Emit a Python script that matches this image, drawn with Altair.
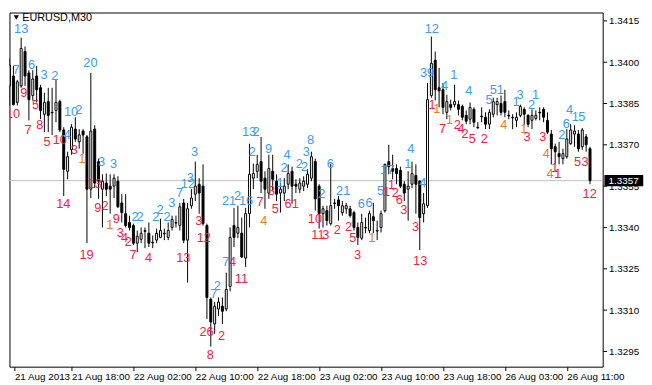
import json
import altair as alt
import pandas as pd

# ---------------- data (EURUSD, M30) ----------------
opens = [
    1.33914, 1.33950, 1.33854, 1.33914, 1.34039, 1.33961, 1.33879, 1.33950, 1.33907, 1.33811,
    1.33857, 1.33818, 1.33825, 1.33857, 1.33754, 1.33604, 1.33682, 1.33757, 1.33711, 1.33750,
    1.33729, 1.33539, 1.33757, 1.33639, 1.33539, 1.33561, 1.33550, 1.33550, 1.33568, 1.33489,
    1.33450, 1.33418, 1.33407, 1.33343, 1.33357, 1.33389, 1.33379, 1.33346, 1.33354, 1.33364,
    1.33379, 1.33364, 1.33400, 1.33418, 1.33407, 1.33489, 1.33354, 1.33479, 1.33521, 1.33557,
    1.33550, 1.33407, 1.33139, 1.33050, 1.33104, 1.33114, 1.33104, 1.33186, 1.33407, 1.33379,
    1.33379, 1.33289, 1.33450, 1.33579, 1.33604, 1.33639, 1.33579, 1.33525, 1.33604, 1.33568,
    1.33525, 1.33525, 1.33557, 1.33604, 1.33557, 1.33539, 1.33550, 1.33557, 1.33579, 1.33639,
    1.33550, 1.33450, 1.33461, 1.33414, 1.33489, 1.33500, 1.33454, 1.33468, 1.33468, 1.33454,
    1.33400, 1.33361, 1.33400, 1.33389, 1.33439, 1.33389, 1.33400, 1.33461, 1.33639, 1.33614,
    1.33614, 1.33607, 1.33557, 1.33539, 1.33557, 1.33589, 1.33568, 1.33450, 1.33479, 1.33879,
    1.34007, 1.33907, 1.33900, 1.33818, 1.33846, 1.33846, 1.33846, 1.33839, 1.33807, 1.33793,
    1.33829, 1.33764, 1.33804, 1.33800, 1.33775, 1.33811, 1.33846, 1.33850, 1.33857, 1.33807,
    1.33800, 1.33789, 1.33807, 1.33829, 1.33807, 1.33789, 1.33796, 1.33818, 1.33829, 1.33789,
    1.33739, 1.33693, 1.33668, 1.33650, 1.33657, 1.33704, 1.33739, 1.33739, 1.33693, 1.33729,
    1.33686,
]
highs = [
    1.34014, 1.33986, 1.33936, 1.34089, 1.34057, 1.33971, 1.33971, 1.33986, 1.33918, 1.33889,
    1.33907, 1.33907, 1.33936, 1.33864, 1.33764, 1.33675, 1.33775, 1.33800, 1.33757, 1.33757,
    1.33736, 1.33961, 1.33771, 1.33650, 1.33593, 1.33596, 1.33593, 1.33593, 1.33586, 1.33521,
    1.33521, 1.33443, 1.33414, 1.33389, 1.33400, 1.33400, 1.33418, 1.33371, 1.33396, 1.33432,
    1.33396, 1.33418, 1.33443, 1.33443, 1.33489, 1.33504, 1.33489, 1.33539, 1.33639, 1.33579,
    1.33629, 1.33414, 1.33146, 1.33129, 1.33146, 1.33146, 1.33236, 1.33400, 1.33471, 1.33479,
    1.33436, 1.33471, 1.33704, 1.33632, 1.33664, 1.33729, 1.33604, 1.33664, 1.33664, 1.33593,
    1.33561, 1.33579, 1.33629, 1.33621, 1.33575, 1.33579, 1.33586, 1.33611, 1.33675, 1.33650,
    1.33557, 1.33479, 1.33479, 1.33632, 1.33504, 1.33514, 1.33496, 1.33489, 1.33479, 1.33461,
    1.33418, 1.33450, 1.33436, 1.33461, 1.33489, 1.33425, 1.33461, 1.33632, 1.33700, 1.33664,
    1.33629, 1.33621, 1.33568, 1.33604, 1.33639, 1.33629, 1.33571, 1.33525, 1.33925, 1.34093,
    1.34039, 1.33979, 1.33925, 1.33882, 1.33864, 1.33918, 1.33861, 1.33846, 1.33825, 1.33854,
    1.33836, 1.33782, 1.33836, 1.33818, 1.33829, 1.33871, 1.33871, 1.33879, 1.33900, 1.33825,
    1.33811, 1.33818, 1.33846, 1.33836, 1.33811, 1.33829, 1.33825, 1.33836, 1.33836, 1.33818,
    1.33754, 1.33704, 1.33711, 1.33686, 1.33757, 1.33775, 1.33771, 1.33754, 1.33761, 1.33739,
    1.33693,
]
lows = [
    1.33843, 1.33843, 1.33843, 1.33907, 1.33914, 1.33789, 1.33861, 1.33854, 1.33793, 1.33746,
    1.33746, 1.33736, 1.33782, 1.33746, 1.33514, 1.33575, 1.33664, 1.33711, 1.33686, 1.33668,
    1.33343, 1.33507, 1.33543, 1.33504, 1.33400, 1.33514, 1.33450, 1.33507, 1.33471, 1.33418,
    1.33400, 1.33389, 1.33336, 1.33311, 1.33343, 1.33325, 1.33329, 1.33325, 1.33343, 1.33361,
    1.33354, 1.33354, 1.33389, 1.33400, 1.33389, 1.33343, 1.33200, 1.33468, 1.33496, 1.33450,
    1.33407, 1.33068, 1.32968, 1.33014, 1.33079, 1.33050, 1.33096, 1.33168, 1.33329, 1.33361,
    1.33289, 1.33257, 1.33400, 1.33539, 1.33579, 1.33525, 1.33468, 1.33504, 1.33532, 1.33496,
    1.33454, 1.33496, 1.33539, 1.33486, 1.33525, 1.33525, 1.33532, 1.33543, 1.33568, 1.33461,
    1.33396, 1.33400, 1.33407, 1.33407, 1.33468, 1.33425, 1.33443, 1.33450, 1.33436, 1.33389,
    1.33336, 1.33354, 1.33379, 1.33379, 1.33379, 1.33354, 1.33382, 1.33454, 1.33593, 1.33575,
    1.33557, 1.33543, 1.33496, 1.33425, 1.33543, 1.33450, 1.33318, 1.33418, 1.33471, 1.33871,
    1.33861, 1.33836, 1.33811, 1.33793, 1.33825, 1.33836, 1.33807, 1.33789, 1.33775, 1.33775,
    1.33764, 1.33757, 1.33782, 1.33757, 1.33757, 1.33800, 1.33807, 1.33807, 1.33800, 1.33793,
    1.33757, 1.33764, 1.33800, 1.33771, 1.33764, 1.33757, 1.33789, 1.33789, 1.33782, 1.33739,
    1.33629, 1.33629, 1.33629, 1.33629, 1.33650, 1.33700, 1.33693, 1.33675, 1.33682, 1.33675,
    1.33557,
]
closes = [
    1.33989, 1.33846, 1.33929, 1.34050, 1.33950, 1.33864, 1.33939, 1.33900, 1.33825, 1.33854,
    1.33807, 1.33816, 1.33854, 1.33754, 1.33611, 1.33657, 1.33764, 1.33721, 1.33736, 1.33736,
    1.33539, 1.33750, 1.33561, 1.33568, 1.33568, 1.33539, 1.33539, 1.33579, 1.33475, 1.33454,
    1.33407, 1.33400, 1.33343, 1.33368, 1.33379, 1.33386, 1.33343, 1.33344, 1.33379, 1.33389,
    1.33377, 1.33389, 1.33429, 1.33416, 1.33475, 1.33354, 1.33468, 1.33507, 1.33550, 1.33525,
    1.33414, 1.33146, 1.33057, 1.33114, 1.33129, 1.33096, 1.33175, 1.33364, 1.33364, 1.33400,
    1.33293, 1.33450, 1.33593, 1.33596, 1.33629, 1.33568, 1.33539, 1.33614, 1.33575, 1.33521,
    1.33539, 1.33550, 1.33596, 1.33550, 1.33550, 1.33561, 1.33568, 1.33593, 1.33657, 1.33504,
    1.33450, 1.33468, 1.33425, 1.33479, 1.33487, 1.33479, 1.33479, 1.33479, 1.33443, 1.33400,
    1.33364, 1.33418, 1.33398, 1.33450, 1.33425, 1.33387, 1.33450, 1.33629, 1.33621, 1.33604,
    1.33596, 1.33550, 1.33525, 1.33550, 1.33596, 1.33557, 1.33436, 1.33486, 1.33864, 1.33996,
    1.33900, 1.33896, 1.33836, 1.33857, 1.33836, 1.33857, 1.33829, 1.33800, 1.33786, 1.33836,
    1.33782, 1.33762, 1.33802, 1.33775, 1.33818, 1.33857, 1.33857, 1.33818, 1.33818, 1.33805,
    1.33798, 1.33800, 1.33839, 1.33811, 1.33775, 1.33807, 1.33807, 1.33816, 1.33800, 1.33746,
    1.33686, 1.33675, 1.33657, 1.33668, 1.33721, 1.33754, 1.33750, 1.33686, 1.33754, 1.33700,
    1.33570,
]

# indicator counters written on the chart: bar position, price, text, colour group
label_bar = [
    0.9, 1.7, 3.7, 3.0, 5.7, 4.8, 6.7, 7.8, 8.9, 9.7,
    11.7, 13.0, 14.9, 13.9, 15.9, 17.9, 16.7, 18.7, 20.9, 19.9,
    22.0, 23.8, 22.8, 24.7, 26.9, 25.9, 27.6, 28.6, 29.7, 30.7,
    31.9, 32.4, 33.7, 35.9, 37.8, 38.9, 40.7, 41.9, 43.9, 46.1,
    46.7, 44.9, 47.8, 48.9, 50.2, 50.9, 51.9, 52.8, 53.7, 54.8,
    55.9, 57.6, 59.9, 56.7, 58.9, 61.1, 61.9, 63.7, 62.7, 64.7,
    65.7, 66.9, 67.7, 68.7, 69.9, 70.9, 71.7, 72.9, 74.9, 76.2,
    76.7, 77.8, 78.9, 80.7, 79.7, 81.7, 82.9, 84.7, 86.2, 87.6,
    88.7, 89.9, 90.9, 92.9, 93.7, 95.9, 97.6, 97.4, 98.7, 99.7,
    100.7, 101.9, 103.7, 102.9, 106.8, 104.9, 106.1, 109.1, 107.9, 109.2,
    110.4, 112.4, 111.9, 113.7, 114.8, 115.7, 116.7, 117.7, 118.7, 119.6,
    122.7, 123.9, 125.9, 127.7, 130.9, 131.9, 132.9, 133.7, 134.9, 135.9,
    137.8, 138.7, 139.7, 140.9, 141.7, 142.7, 143.9, 144.7, 146.2, 147.9,
    146.8, 148.7, 149.9,
]
label_price = [
    1.33811, 1.33971, 1.33889, 1.34121, 1.33989, 1.33754, 1.33843, 1.33771, 1.33954, 1.33711,
    1.33950, 1.33718, 1.33736, 1.33486, 1.33818, 1.33825, 1.33682, 1.33650, 1.33996, 1.33300,
    1.33557, 1.33639, 1.33471, 1.33479, 1.33629, 1.33407, 1.33432, 1.33379, 1.33361, 1.33346,
    1.33300, 1.33436, 1.33436, 1.33289, 1.33436, 1.33464, 1.33436, 1.33489, 1.33525, 1.33557,
    1.33579, 1.33289, 1.33675, 1.33425, 1.33361, 1.33021, 1.32936, 1.33157, 1.33186, 1.33007,
    1.33275, 1.33275, 1.33211, 1.33496, 1.33514, 1.33496, 1.33746, 1.33746, 1.33675, 1.33493,
    1.33425, 1.33686, 1.33532, 1.33468, 1.33561, 1.33614, 1.33664, 1.33486, 1.33629, 1.33621,
    1.33675, 1.33718, 1.33432, 1.33521, 1.33371, 1.33371, 1.33632, 1.33389, 1.33532, 1.33400,
    1.33361, 1.33300, 1.33486, 1.33489, 1.33361, 1.33532, 1.33607, 1.33529, 1.33554, 1.33525,
    1.33500, 1.33464, 1.33686, 1.33632, 1.33561, 1.33400, 1.33279, 1.34121, 1.33961, 1.33843,
    1.33829, 1.33914, 1.33757, 1.33789, 1.33954, 1.33771, 1.33757, 1.33739, 1.33896, 1.33721,
    1.33721, 1.33864, 1.33900, 1.33771, 1.33854, 1.33879, 1.33757, 1.33729, 1.33846, 1.33879,
    1.33729, 1.33668, 1.33593, 1.33614, 1.33593, 1.33736, 1.33775, 1.33825, 1.33800, 1.33800,
    1.33639, 1.33639, 1.33521,
]
label_text = [
    "10", "7", "9", "13", "6", "7", "5", "8", "3", "5",
    "2", "10", "4", "14", "10", "2", "3", "1", "20", "19",
    "13", "3", "9", "2", "3", "1", "9", "3", "4", "2",
    "7", "2", "2", "4", "2", "2", "2", "3", "7", "12",
    "3", "13", "3", "3", "12", "26", "8", "7", "2", "2",
    "7", "4", "11", "21", "2", "16", "13", "2", "2", "7",
    "4", "9", "3", "5", "1", "2", "4", "61", "2", "2",
    "3", "8", "10", "2", "11", "3", "6", "2", "21", "2",
    "5", "3", "6", "6", "1", "5", "17", "1", "1", "2",
    "6", "3", "4", "1", "4", "3", "13", "12", "39", "1",
    "1", "4", "7", "1", "1", "2", "4", "2", "4", "5",
    "2", "5", "51", "4", "1", "3", "1", "3", "2", "1",
    "3", "4", "4", "1", "1", "2", "6", "4", "1", "5",
    "5", "3", "12",
]
label_kind = [
    "dn", "up", "dn", "up", "up", "dn", "dn", "dn", "up", "dn",
    "up", "dn", "up", "dn", "up", "up", "dn", "mid", "up", "dn",
    "dn", "up", "dn", "dn", "up", "mid", "dn", "dn", "dn", "dn",
    "dn", "up", "up", "dn", "up", "up", "up", "up", "up", "up",
    "up", "dn", "up", "dn", "dn", "dn", "dn", "up", "up", "dn",
    "up", "dn", "dn", "up", "up", "up", "up", "up", "up", "dn",
    "mid", "up", "dn", "dn", "up", "up", "up", "dn", "up", "up",
    "up", "up", "dn", "up", "dn", "dn", "up", "dn", "up", "dn",
    "dn", "dn", "up", "up", "mid", "up", "up", "dn", "dn", "dn",
    "dn", "dn", "up", "up", "up", "dn", "dn", "up", "up", "dn",
    "mid", "up", "dn", "mid", "up", "dn", "dn", "dn", "up", "dn",
    "dn", "up", "up", "mid", "up", "up", "mid", "dn", "up", "up",
    "dn", "mid", "mid", "dn", "dn", "up", "up", "up", "up", "up",
    "dn", "dn", "dn",
]

x_tick_bars = [1.25, 16, 32, 48, 64, 80, 96, 112, 128, 144]
x_tick_labels = ["21 Aug 2013", "21 Aug 18:00", "22 Aug 02:00", "22 Aug 10:00",
                 "22 Aug 18:00", "23 Aug 02:00", "23 Aug 10:00", "23 Aug 18:00",
                 "26 Aug 03:00", "26 Aug 11:00"]
y_ticks = [1.3295, 1.3310, 1.3325, 1.3340, 1.3355, 1.3370, 1.3385, 1.3400, 1.3415]
last_price = 1.3357
symbol_title = "EURUSD,M30"

# ---------------- chart ----------------
FONT = "Liberation Sans"
W, H = 603, 360

candles = pd.DataFrame({"i": list(range(len(opens))), "o": opens, "h": highs,
                        "l": lows, "c": closes})
candles["dir"] = ["up" if c >= o else "down" for o, c in zip(opens, closes)]
labels = pd.DataFrame({"b": label_bar, "p": label_price, "t": label_text, "k": label_kind})
price_df = pd.DataFrame({"p": [last_price], "t": [f"{last_price:.4f}"]})
title_df = pd.DataFrame({"t": [symbol_title]})

xscale = alt.Scale(domain=[1.25, 152.0], nice=False, zero=False)
yscale = alt.Scale(domain=[1.328946, 1.341803], nice=False, zero=False)

label_expr = json.dumps(x_tick_labels) + "[round(datum.value / 16)]"
xaxis = alt.Axis(values=x_tick_bars, labelExpr=label_expr, labelAlign="left",
                 labelPadding=1, tickSize=4, tickColor="black", domain=False,
                 grid=False, labelFont=FONT, labelFontSize=10, labelColor="black",
                 labelOverlap=False, labelFlush=False, title=None)
yaxis = alt.Axis(values=y_ticks, format=".4f", orient="right", labelAlign="left",
                 labelPadding=2, tickSize=4, tickColor="black", domain=False,
                 grid=False, labelFont=FONT, labelFontSize=10, labelColor="black",
                 labelOverlap=False, labelFlush=False, title=None)


def X(field):
    return alt.X(field, type="quantitative", scale=xscale, axis=xaxis)


def Y(field):
    return alt.Y(field, type="quantitative", scale=yscale, axis=yaxis)


price_line = alt.Chart(price_df).mark_rule(color="#C0C0C0", strokeWidth=1).encode(
    y=Y("p"))

wicks = alt.Chart(candles).mark_rule(color="black", strokeWidth=1, clip=True).encode(
    x=X("i"), y=Y("h"), y2="l")

bodies = alt.Chart(candles).mark_bar(size=2, stroke="black", strokeWidth=1,
                                     clip=True).encode(
    x=X("i"), y=Y("o"), y2="c",
    fill=alt.Fill("dir:N", scale=alt.Scale(domain=["up", "down"],
                                           range=["white", "black"]), legend=None))

texts = alt.Chart(labels).mark_text(font=FONT, fontSize=13, align="center",
                                    baseline="middle", clip=True).encode(
    x=X("b"), y=Y("p"), text="t:N",
    color=alt.Color("k:N", scale=alt.Scale(domain=["up", "dn", "mid"],
                                           range=["#3B9BF5", "#FF1A3D", "#E8801E"]),
                    legend=None))

box = alt.Chart(price_df).mark_point(
    shape="M -1 -0.29 L 1 -0.29 L 1 0.29 L -1 0.29 Z", filled=True, size=1560,
    color="black", opacity=1, strokeWidth=0).encode(
    x=alt.value(W + 21.5), y=Y("p"))

box_text = alt.Chart(price_df).mark_text(font=FONT, fontSize=10, align="left",
                                         baseline="middle", color="white").encode(
    x=alt.value(W + 6), y=Y("p"), text="t:N")

title_tri = alt.Chart(title_df).mark_point(shape="triangle-down", filled=True,
                                           size=28, color="black", opacity=1).encode(
    x=alt.value(7), y=alt.value(5))
title_txt = alt.Chart(title_df).mark_text(font=FONT, fontSize=11, align="left",
                                          baseline="middle", color="black").encode(
    x=alt.value(13), y=alt.value(5.5), text="t:N")

chart = alt.layer(price_line, wicks, bodies, texts, box, box_text, title_tri,
                  title_txt).resolve_scale(color="independent", fill="independent")
chart = chart.properties(
    width=W, height=H,
    padding={"left": 0.5, "top": 0.5, "right": 0, "bottom": 0},
    background="white",
).configure(font=FONT).configure_view(stroke="black", strokeWidth=1)

chart.save("out.html", embed_options={"renderer": "svg", "actions": False})
